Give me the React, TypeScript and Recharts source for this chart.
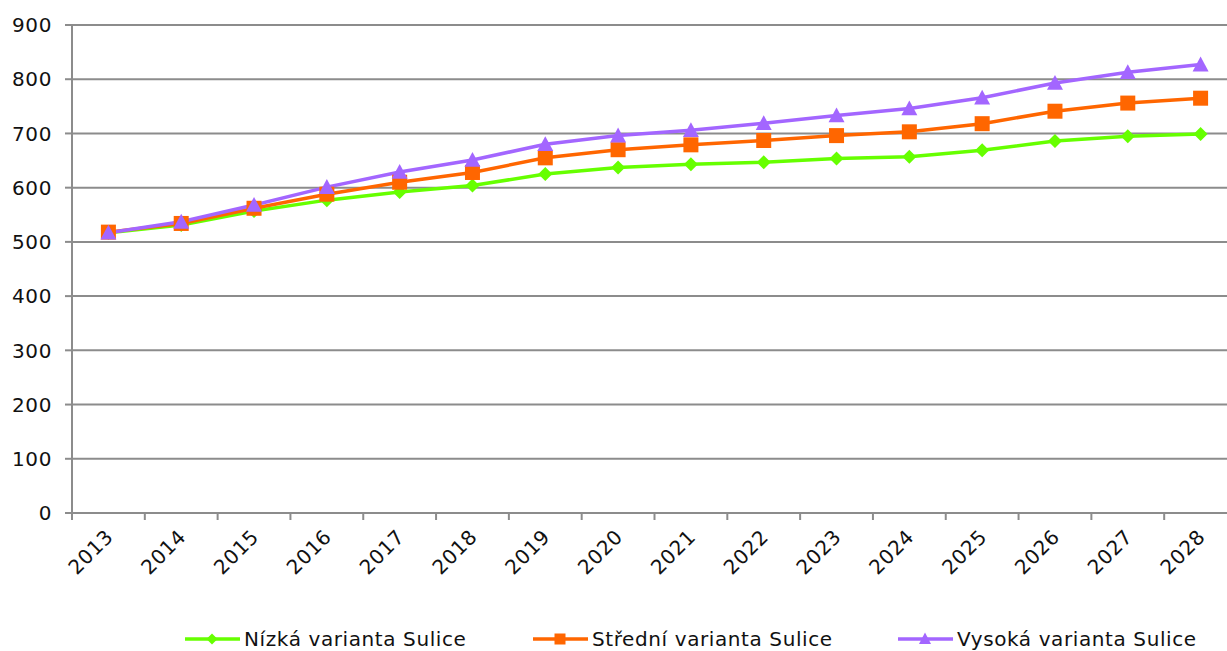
import React from "react";
import { LineChart, Line, XAxis, YAxis, CartesianGrid, Legend } from "recharts";

const years = ["2013","2014","2015","2016","2017","2018","2019","2020","2021","2022","2023","2024","2025","2026","2027","2028"];
const nizka = [517, 531, 557, 577, 592, 604, 625, 637, 643, 647, 654, 657, 669, 686, 695, 699];
const stredni = [518, 534, 562, 588, 610, 628, 655, 670, 679, 687, 696, 703, 718, 741, 756, 765];
const vysoka = [517, 537, 568, 601, 629, 651, 680, 696, 706, 719, 733, 746, 766, 793, 813, 827];
const yTicks = [0, 100, 200, 300, 400, 500, 600, 700, 800, 900];

const names = ["Nízká varianta Sulice", "Střední varianta Sulice", "Vysoká varianta Sulice"];
const colors = ["#66ff00", "#ff6600", "#a366ff"];

const data = years.map((y, i) => ({ year: y, nizka: nizka[i], stredni: stredni[i], vysoka: vysoka[i] }));

const FONT = "'DejaVu Sans', Verdana, sans-serif";
const FS = 20;
const LS = 0.6;
const CHART_W = 1237;
const Y_W = 72;
const BAND = (CHART_W - Y_W) / years.length;
const AXIS = "#8c8c8c";
const TXT = "#111";

const Diamond = (props: any) => {
  const { cx, cy, fill } = props;
  if (cx == null || cy == null) return null;
  const r = 7;
  return <path d={`M${cx},${cy - r}L${cx + r},${cy}L${cx},${cy + r}L${cx - r},${cy}Z`} fill={fill} />;
};
const Square = (props: any) => {
  const { cx, cy, fill } = props;
  if (cx == null || cy == null) return null;
  const r = 7.5;
  return <rect x={cx - r} y={cy - r} width={2 * r} height={2 * r} fill={fill} />;
};
const Triangle = (props: any) => {
  const { cx, cy, fill } = props;
  if (cx == null || cy == null) return null;
  const r = 8;
  return <path d={`M${cx},${cy - r}L${cx + r},${cy + r * 0.85}L${cx - r},${cy + r * 0.85}Z`} fill={fill} />;
};

const XTick = (props: any) => {
  const { x, y, payload } = props;
  const bx = x - BAND / 2;
  const tx = x + 1;
  const ty = y + 20;
  return (
    <g>
      <line x1={bx} y1={y} x2={bx} y2={y + 7} stroke={AXIS} strokeWidth={2} />
      <text x={tx} y={ty} transform={`rotate(-45, ${tx}, ${ty})`} textAnchor="end" fill={TXT} fontSize={FS} letterSpacing={LS} fontFamily={FONT} dy="0.35em">
        {payload.value}
      </text>
    </g>
  );
};

const YTick = (props: any) => {
  const { x, y, payload } = props;
  return (
    <text x={x} y={y} textAnchor="end" fill={TXT} fontSize={FS} letterSpacing={LS} fontFamily={FONT} dy="0.36em">
      {payload.value}
    </text>
  );
};

const legendMarkers = [
  (c: string) => <path d="M27,-5.5L32.5,0L27,5.5L21.5,0Z" fill={c} />,
  (c: string) => <rect x={21.5} y={-5.5} width={11} height={11} fill={c} />,
  (c: string) => <path d="M27,-6.5L33,5L21,5Z" fill={c} />,
];

const LegendContent = () => (
  <div style={{ position: "relative", height: 40, width: CHART_W, fontFamily: FONT, fontSize: FS, letterSpacing: LS, color: TXT }}>
    {names.map((n, i) => {
      const left = [185, 533, 898][i];
      return (
        <div key={n} style={{ position: "absolute", left, top: 16, display: "flex", alignItems: "center", whiteSpace: "nowrap" }}>
          <svg width={56} height={20} style={{ overflow: "visible" }}>
            <g transform="translate(0,10)">
              <line x1={0} y1={0} x2={55} y2={0} stroke={colors[i]} strokeWidth={3.5} />
              {legendMarkers[i](colors[i])}
            </g>
          </svg>
          <span style={{ marginLeft: 3 }}>{n}</span>
        </div>
      );
    })}
  </div>
);

export default function App() {
  return (
    <div style={{ position: "fixed", left: 0, top: 0, width: 1227, height: 651, overflow: "hidden", background: "#fff" }}>
      <LineChart width={CHART_W} height={651} data={data} margin={{ top: 25, right: 0, bottom: 0, left: 0 }}>
        <CartesianGrid vertical={false} stroke={AXIS} strokeWidth={2} />
        <XAxis
          dataKey="year"
          scale="band"
          tickLine={false}
          tickSize={0}
          tickMargin={0}
          height={98}
          axisLine={{ stroke: AXIS, strokeWidth: 2 }}
          tick={<XTick />}
          interval={0}
        />
        <YAxis
          width={Y_W}
          domain={[0, 900]}
          ticks={yTicks}
          tickSize={7}
          tickMargin={13}
          axisLine={{ stroke: AXIS, strokeWidth: 2 }}
          tickLine={{ stroke: AXIS, strokeWidth: 2 }}
          tick={<YTick />}
          interval={0}
        />
        <Legend verticalAlign="bottom" align="left" content={<LegendContent />} wrapperStyle={{ height: 40, left: 0 }} />
        <Line dataKey="nizka" name={names[0]} stroke={colors[0]} strokeWidth={3.5} dot={<Diamond fill={colors[0]} />} isAnimationActive={false} />
        <Line dataKey="stredni" name={names[1]} stroke={colors[1]} strokeWidth={3.5} dot={<Square fill={colors[1]} />} isAnimationActive={false} />
        <Line dataKey="vysoka" name={names[2]} stroke={colors[2]} strokeWidth={3.5} dot={<Triangle fill={colors[2]} />} isAnimationActive={false} />
      </LineChart>
    </div>
  );
}
